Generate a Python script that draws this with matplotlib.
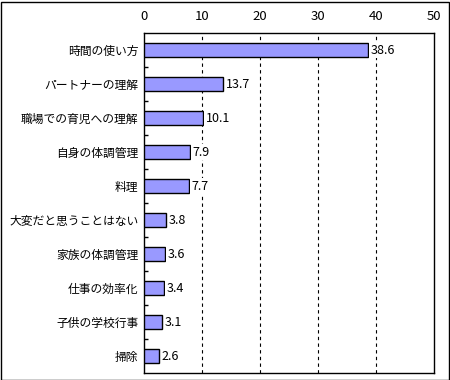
import matplotlib
matplotlib.use("Agg")
import matplotlib.pyplot as plt
from matplotlib.patches import Rectangle

plt.rcParams['font.family'] = ['Noto Sans CJK JP', 'DejaVu Sans']

categories = ["時間の使い方", "パートナーの理解", "職場での育児への理解", "自身の体調管理", "料理",
              "大変だと思うことはない", "家族の体調管理", "仕事の効率化", "子供の学校行事", "掃除"]
values = [38.6, 13.7, 10.1, 7.9, 7.7, 3.8, 3.6, 3.4, 3.1, 2.6]
xticks = [0, 10, 20, 30, 40, 50]

fig = plt.figure(figsize=(4.5, 3.8), dpi=100)
ax = fig.add_axes([144/450, 1-373/380, 290/450, 340/380])

y = list(range(len(categories)))
ax.barh(y, values, height=0.4, color="#9999FF", edgecolor="black", linewidth=1, zorder=3)
for yi, v in zip(y, values):
    ax.text(v + 0.5, yi, f"{v}", va="center", ha="left", fontsize=9, zorder=4,
            bbox=dict(facecolor="white", edgecolor="none", pad=1))

ax.set_xlim(0, 50)
ax.set_ylim(len(categories) - 0.5, -0.5)
ax.set_xticks(xticks)
ax.xaxis.tick_top()
ax.tick_params(axis="x", length=0, labelsize=9.5, pad=7)
ax.set_yticks([i + 0.5 for i in range(len(categories) - 1)], minor=False)
ax.set_yticklabels([])
ax.set_yticks(y, minor=True)
ax.set_yticklabels(categories, minor=True, fontsize=8.5)
ax.tick_params(axis="y", which="major", direction="in", length=3, width=1)
ax.tick_params(axis="y", which="minor", length=0, pad=4)
for xv in xticks[1:-1]:
    ax.axvline(xv, color="black", linestyle=(0, (3, 3)), linewidth=0.8, zorder=1)
for s in ax.spines.values():
    s.set_linewidth(1)

fig.patches.append(Rectangle((0.5/450, 0.5/380), 448/450, 378/380, transform=fig.transFigure,
                             fill=False, edgecolor="black", linewidth=1))
fig.savefig("out.png", dpi=100)
